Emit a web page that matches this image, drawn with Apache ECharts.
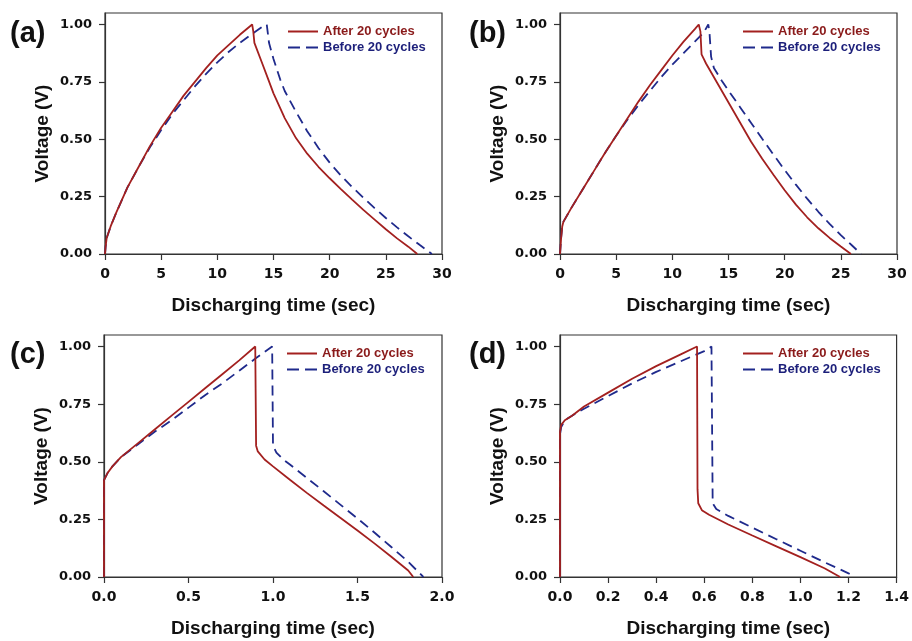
<!DOCTYPE html>
<html>
<head>
<meta charset="utf-8">
<script src="https://cdn.jsdelivr.net/npm/echarts@6/dist/echarts.min.js"></script>
<style>
html,body{margin:0;padding:0;background:#fff;}
#chart{width:912px;height:641px;}
</style>
</head>
<body>
<div id="chart"></div>
<script>
// ---- data ----
const panelLabels = ['(a)', '(b)', '(c)', '(d)'];
const seriesNames = ['After 20 cycles', 'Before 20 cycles'];
const yTicks = [0, 0.25, 0.5, 0.75, 1.0];
const xTicksA = [0, 5, 10, 15, 20, 25, 30];
const xTicksB = [0, 5, 10, 15, 20, 25, 30];
const xTicksC = [0, 0.5, 1.0, 1.5, 2.0];
const xTicksD = [0, 0.2, 0.4, 0.6, 0.8, 1.0, 1.2, 1.4];

const aAfter = [[0,0],[0.05,0.03],[0.15,0.07],[0.5,0.12],[1,0.18],[2,0.29],[3,0.38],[4,0.47],[5,0.55],[6,0.62],[7,0.69],[8,0.75],[9,0.81],[10,0.865],[11,0.91],[12,0.955],[13.1,1.0],
  [13.2,0.97],[13.3,0.92],[14,0.83],[14.5,0.765],[15,0.7],[16,0.592],[17,0.505],[18,0.437],[19,0.38],[20,0.33],[21,0.283],[22,0.237],[23,0.192],[24,0.15],[25,0.108],[26,0.068],[27,0.032],[27.8,0]];
const aBefore = [[0,0],[0.05,0.03],[0.15,0.07],[0.5,0.12],[1,0.18],[2,0.29],[3,0.38],[4,0.465],[5,0.54],[6,0.61],[7,0.67],[8,0.73],[9,0.785],[10,0.835],[11,0.88],[12,0.92],[13,0.955],[14,0.99],[14.4,1.0],
  [14.5,0.96],[14.6,0.92],[15,0.85],[15.6,0.76],[16,0.71],[17,0.62],[18,0.535],[19,0.462],[20,0.398],[21,0.342],[22,0.292],[23,0.245],[24,0.2],[25,0.157],[26,0.116],[27,0.077],[28,0.04],[29.1,0]];

const bAfter = [[0,0],[0.1,0.07],[0.2,0.12],[0.3,0.14],[1,0.2],[2,0.28],[3,0.36],[4,0.44],[5,0.515],[6,0.59],[7,0.665],[8,0.735],[9,0.8],[10,0.865],[11,0.925],[12,0.98],[12.35,1.0],
  [12.5,0.97],[12.6,0.87],[12.8,0.85],[13,0.83],[14,0.745],[15,0.66],[16,0.575],[17,0.49],[18,0.415],[19,0.345],[20,0.278],[21,0.215],[22,0.16],[23,0.112],[24,0.07],[25,0.033],[25.9,0]];
const bBefore = [[0,0],[0.1,0.07],[0.2,0.12],[0.3,0.14],[1,0.2],[2,0.28],[3,0.36],[4,0.44],[5,0.515],[6,0.585],[7,0.65],[8,0.71],[9,0.77],[10,0.825],[11,0.875],[12,0.925],[12.8,0.965],[13.2,1.0],
  [13.3,0.97],[13.45,0.86],[13.7,0.81],[14.4,0.755],[15,0.712],[16,0.642],[17,0.572],[18,0.502],[19,0.433],[20,0.366],[21,0.302],[22,0.241],[23,0.184],[24,0.131],[25,0.082],[26,0.037],[26.8,0]];

const cAfter = [[0,0],[0,0.42],[0.02,0.45],[0.05,0.48],[0.1,0.52],[0.2,0.58],[0.3,0.64],[0.4,0.7],[0.5,0.76],[0.6,0.82],[0.7,0.88],[0.8,0.94],[0.895,1.0],
  [0.9,0.57],[0.91,0.545],[0.95,0.51],[1.0,0.48],[1.1,0.422],[1.2,0.365],[1.3,0.31],[1.4,0.256],[1.5,0.202],[1.6,0.146],[1.7,0.088],[1.8,0.028],[1.83,0]];
const cBefore = [[0,0],[0,0.42],[0.02,0.45],[0.05,0.48],[0.1,0.52],[0.2,0.575],[0.3,0.63],[0.4,0.68],[0.5,0.735],[0.6,0.79],[0.7,0.84],[0.8,0.895],[0.9,0.95],[0.995,1.0],
  [1.0,0.57],[1.02,0.54],[1.06,0.51],[1.1,0.488],[1.2,0.43],[1.3,0.372],[1.4,0.313],[1.5,0.254],[1.6,0.193],[1.7,0.13],[1.8,0.066],[1.89,0]];

const dAfter = [[0,0],[0,0.63],[0.005,0.66],[0.02,0.68],[0.05,0.70],[0.1,0.74],[0.2,0.8],[0.3,0.86],[0.4,0.915],[0.5,0.965],[0.57,1.0],
  [0.572,0.38],[0.575,0.32],[0.59,0.29],[0.62,0.27],[0.7,0.228],[0.8,0.18],[0.9,0.133],[1.0,0.086],[1.1,0.038],[1.165,0]];
const dBefore = [[0,0],[0,0.62],[0.005,0.65],[0.02,0.68],[0.05,0.70],[0.1,0.73],[0.2,0.785],[0.3,0.84],[0.4,0.89],[0.5,0.935],[0.6,0.98],[0.63,1.0],
  [0.635,0.32],[0.65,0.295],[0.7,0.265],[0.8,0.214],[0.9,0.164],[1.0,0.114],[1.1,0.064],[1.2,0.016],[1.225,0]];

// ---- layout / styling ----
const RED = '#a3201f';
const BLUE = '#1f2a8c';
const AXIS = '#333333';
const grids = [
  {left:105, top:13, width:337, height:241},
  {left:560, top:13, width:337, height:241},
  {left:104, top:335, width:338, height:242},
  {left:560, top:335, width:338, height:242}
];
const xCfg = [
  {max:30, interval:5, ticks:xTicksA, dec:0},
  {max:30, interval:5, ticks:xTicksB, dec:0},
  {max:2.0, interval:0.5, ticks:xTicksC, dec:1},
  {max:1.4, interval:0.2, ticks:xTicksD, dec:1}
];
const panelData = [[aAfter,aBefore],[bAfter,bBefore],[cAfter,cBefore],[dAfter,dBefore]];
const labelPos = [[10,19],[469,19],[10,340],[469,340]];

const yTickFont = {fontFamily:'DejaVu Sans', fontWeight:'bold', fontSize:13, color:'#111'};
const xTickFont = {fontFamily:'DejaVu Sans', fontWeight:'bold', fontSize:14, color:'#111'};
const titleFont = {fontFamily:'Liberation Sans', fontWeight:'bold', fontSize:19, color:'#111'};
const SOLID_ICON = 'path://M0,0h30v2h-30z';
const DASH_ICON = 'path://M0,0h12v2h-12z M18,0h12v2h-12z';

const option = {
  backgroundColor:'#fff',
  animation:false,
  grid: grids.map(g => Object.assign({show:true, borderColor:AXIS, borderWidth:1.2, backgroundColor:'transparent'}, g)),
  xAxis: xCfg.map((c,i) => ({
    type:'value', gridIndex:i, min:0, max:c.max, interval:c.interval,
    name:'Discharging time (sec)', nameLocation:'middle', nameGap:42, nameTextStyle:titleFont,
    axisLine:{show:true, onZero:false, lineStyle:{color:AXIS, width:1.2}},
    axisTick:{show:true, inside:false, length:6, lineStyle:{color:AXIS, width:1.2}, customValues:c.ticks},
    axisLabel:Object.assign({margin:13, customValues:c.ticks, formatter:v => Number(v).toFixed(c.dec)}, xTickFont),
    splitLine:{show:false}
  })),
  yAxis: grids.map((g,i) => ({
    type:'value', gridIndex:i, min:0, max:1.05, interval:0.25,
    name:'Voltage (V)', nameLocation:'middle', nameGap:53, nameRotate:90, nameTextStyle:titleFont,
    axisLine:{show:true, onZero:false, lineStyle:{color:AXIS, width:1.2}},
    axisTick:{show:true, inside:false, length:6, lineStyle:{color:AXIS, width:1.2}, customValues:yTicks},
    axisLabel:Object.assign({margin:13, customValues:yTicks, formatter:v => Number(v).toFixed(2)}, yTickFont),
    splitLine:{show:false}
  })),
  legend: grids.map((g,i) => ({
    orient:'vertical',
    left: g.left + 183, top: g.top + 12,
    padding:0,
    itemWidth:30, itemHeight:2, itemGap:3,
    textStyle:{fontFamily:'Liberation Sans', fontWeight:'bold', fontSize:13},
    data:[
      {name:seriesNames[0], icon:SOLID_ICON, itemStyle:{color:RED}, textStyle:{color:'#8a1a1a'}},
      {name:seriesNames[1], icon:DASH_ICON, itemStyle:{color:BLUE}, textStyle:{color:'#1c1f7a'}}
    ]
  })),
  graphic: panelLabels.map((t,i) => ({
    type:'text', left:labelPos[i][0], top:labelPos[i][1],
    style:{text:t, fontFamily:'Liberation Sans', fontWeight:'bold', fontSize:29, fill:'#111'}
  })),
  series: []
};

panelData.forEach((pair,i) => {
  option.series.push({
    type:'line', name:seriesNames[0], xAxisIndex:i, yAxisIndex:i, data:pair[0],
    symbol:'none', smooth:false, lineStyle:{color:RED, width:1.8, type:'solid'}, itemStyle:{color:RED}, z:3
  });
  option.series.push({
    type:'line', name:seriesNames[1], xAxisIndex:i, yAxisIndex:i, data:pair[1],
    symbol:'none', smooth:false, lineStyle:{color:BLUE, width:1.8, type:[10,6]}, itemStyle:{color:BLUE}, z:2
  });
});

const chart = echarts.init(document.getElementById('chart'), null, {renderer:'canvas'});
chart.setOption(option);
</script>
</body>
</html>
